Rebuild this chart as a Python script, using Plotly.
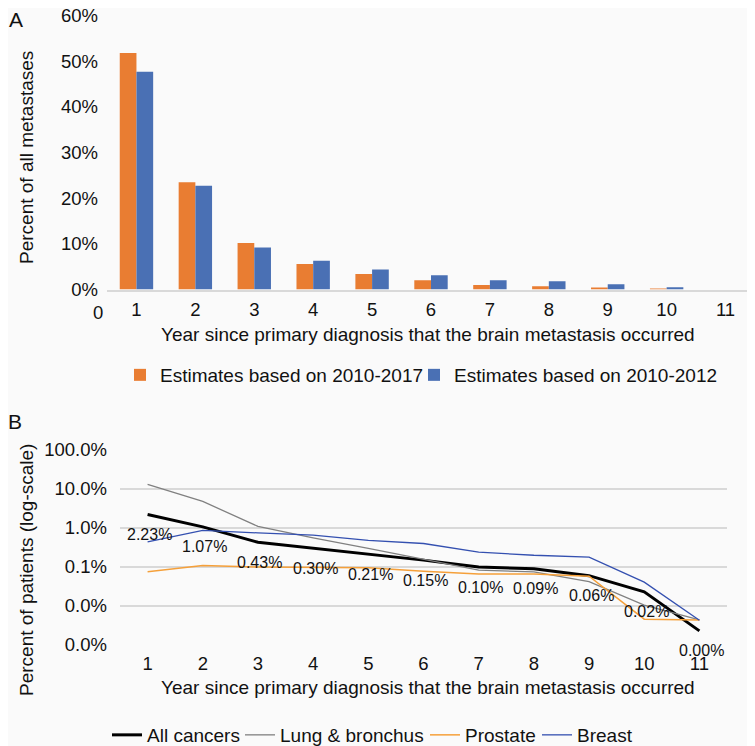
import math
import plotly.graph_objects as go

# ---------------- data ----------------
years = [1, 2, 3, 4, 5, 6, 7, 8, 9, 10, 11]
year_labels = [str(y) for y in years]

# Panel A: percent of all metastases by year since primary diagnosis
est_2010_2017 = [51.8, 23.5, 10.2, 5.6, 3.4, 2.0, 1.0, 0.7, 0.4, 0.12, 0.0]
est_2010_2012 = [47.7, 22.7, 9.2, 6.3, 4.4, 3.1, 2.0, 1.8, 1.15, 0.5, 0.0]
a_yticks = [0, 10, 20, 30, 40, 50, 60]
a_yticktext = ["0%", "10%", "20%", "30%", "40%", "50%", "60%"]

# Panel B: percent of patients (log scale)
all_cancers = [2.23, 1.07, 0.43, 0.30, 0.21, 0.15, 0.10, 0.09, 0.06, 0.023, 0.0023]
lung_bronchus = [13.2, 4.8, 1.1, 0.56, 0.30, 0.16, 0.083, 0.075, 0.042, 0.0106, 0.0044]
prostate = [0.076, 0.11, 0.10, 0.099, 0.095, 0.078, 0.066, 0.066, 0.058, 0.0046, 0.0044]
breast = [0.44, 0.87, 0.75, 0.66, 0.48, 0.40, 0.24, 0.20, 0.18, 0.041, 0.0043]
b_yticks = [0.001, 0.01, 0.1, 1, 10, 100]
b_yticktext = ["0.0%", "0.0%", "0.1%", "1.0%", "10.0%", "100.0%"]

XTITLE = "Year since primary diagnosis that the brain metastasis occurred"

# ---------------- layout helpers ----------------
W, H = 755, 746
OFF = 8  # default page body margin of the browser
def px(x):
    return (x - OFF) / W
def py(y):
    return 1 - (y - OFF) / H

FONT = "Liberation Sans, Arial, Helvetica, sans-serif"
BG = "#fafafa"
GRID = "#d9d9d9"
TXT = "#111111"

fig = go.Figure()

# Panel A bars
fig.add_trace(go.Bar(x=years, y=est_2010_2017, name="Estimates based on 2010-2017",
                     marker=dict(color="#E97D32", line=dict(width=0)),
                     xaxis="x", yaxis="y", legend="legend"))
fig.add_trace(go.Bar(x=years, y=est_2010_2012, name="Estimates based on 2010-2012",
                     marker=dict(color="#4A70B4", line=dict(width=0)),
                     xaxis="x", yaxis="y", legend="legend2"))

# Panel B lines
fig.add_trace(go.Scatter(x=years, y=all_cancers, name="All cancers", mode="lines",
                         line=dict(color="#000000", width=3),
                         xaxis="x2", yaxis="y2", legend="legend3"))
fig.add_trace(go.Scatter(x=years, y=lung_bronchus, name="Lung & bronchus", mode="lines",
                         line=dict(color="#808080", width=1.3),
                         xaxis="x2", yaxis="y2", legend="legend4"))
fig.add_trace(go.Scatter(x=years, y=prostate, name="Prostate", mode="lines",
                         line=dict(color="#F5A03A", width=1.5),
                         xaxis="x2", yaxis="y2", legend="legend5"))
fig.add_trace(go.Scatter(x=years, y=breast, name="Breast", mode="lines",
                         line=dict(color="#3450B0", width=1.3),
                         xaxis="x2", yaxis="y2", legend="legend6"))

annotations = []
# data labels for all cancers
for x, v in zip(years, all_cancers):
    annotations.append(dict(x=x, y=math.log10(v), xref="x2", yref="y2",
                            text=f"{v:.2f}%", showarrow=False, yshift=-20, xshift=2,
                            font=dict(size=16, color=TXT, family=FONT)))

def txt(x, y, text, size=19, angle=0):
    return dict(x=px(x), y=py(y), xref="paper", yref="paper", text=text,
                showarrow=False, textangle=angle, xanchor="center", yanchor="middle",
                font=dict(size=size, color=TXT, family=FONT))

annotations += [
    txt(16, 19, "A", 21),
    txt(15, 421, "B", 21),
    txt(98, 313, "0", 18.5),
    txt(428, 335, XTITLE, 19),
    txt(428, 687, XTITLE, 19),
    txt(26, 158, "Percent of all metastases", 19, -90),
    txt(26, 570, "Percent of patients (log-scale)", 19, -90),
]

tickfont = dict(size=18.5, color=TXT, family=FONT)

def leg(text_start, y):
    return dict(orientation="h", x=px(text_start - 41), y=py(y), xanchor="left",
                yanchor="middle", font=dict(size=19, color=TXT, family=FONT),
                bgcolor="rgba(0,0,0,0)", itemwidth=30, borderwidth=0)

fig.update_layout(
    width=W, height=H,
    margin=dict(l=0, r=0, t=0, b=0, autoexpand=False),
    paper_bgcolor=BG, plot_bgcolor=BG,
    font=dict(family=FONT, color=TXT),
    barmode="group", bargap=0.433, bargroupgap=0,
    showlegend=True,
    xaxis=dict(domain=[px(107), px(755)], range=[0.5, 11.5], tickmode="array",
               tickvals=years, ticktext=year_labels, showgrid=False, zeroline=False,
               showline=True, linecolor=GRID, linewidth=1.5, ticks="", automargin=False,
               ticklabeloverflow="allow",
               tickfont=tickfont, ticklabelstandoff=3, anchor="y"),
    yaxis=dict(domain=[py(289.5), py(15.5)], range=[0, 60], tickmode="array",
               tickvals=a_yticks, ticktext=a_yticktext, showgrid=False, zeroline=False,
               showline=False, ticks="", automargin=False, ticklabeloverflow="allow",
               tickfont=tickfont, ticklabelstandoff=8, anchor="x"),
    xaxis2=dict(domain=[px(120), px(727)], range=[0.5, 11.5], tickmode="array",
                tickvals=years, ticktext=year_labels, showgrid=False, zeroline=False,
                showline=False, ticks="", automargin=False, ticklabeloverflow="allow",
                tickfont=tickfont, ticklabelstandoff=5, anchor="y2"),
    yaxis2=dict(domain=[py(645), py(450)], type="log", range=[-3, 2], tickmode="array",
                tickvals=b_yticks, ticktext=b_yticktext, showgrid=True, gridcolor=GRID,
                gridwidth=1.5, zeroline=False, showline=False, ticks="", automargin=False,
                ticklabeloverflow="allow",
                tickfont=tickfont, ticklabelstandoff=12, anchor="x2"),
    legend=leg(161, 375),
    legend2=leg(455, 375),
    legend3=leg(148, 735),
    legend4=leg(281, 735),
    legend5=leg(466, 735),
    legend6=leg(578, 735),
    annotations=annotations,
)

fig.write_html("out.html")
